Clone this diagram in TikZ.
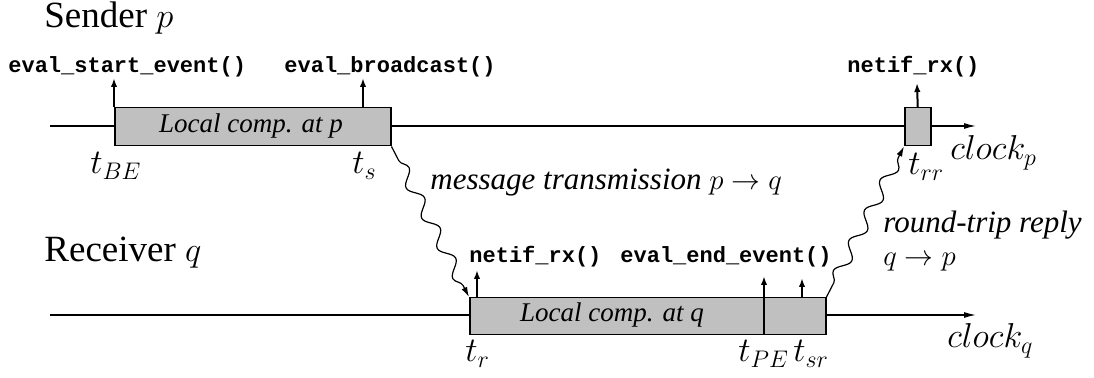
\documentclass[tikz,border=0pt]{standalone}
\usepackage{fontspec}
\setmainfont{Liberation Serif}
\setmonofont{Liberation Mono}
\usetikzlibrary{arrows.meta,decorations.pathmorphing}
\definecolor{boxgray}{RGB}{192,192,192}
\begin{document}
\begin{tikzpicture}[x=0.5pt,y=-0.5pt,
  clk/.style={line width=0.65pt,-{Latex[length=6pt,width=3pt]}},
  box/.style={draw,line width=0.75pt,fill=boxgray,inner sep=0pt,anchor=north west},
  up/.style={line width=1pt,-{Latex[length=4.5pt,width=3.2pt]}},
  fn/.style={font=\ttfamily\bfseries\fontsize{11}{13}\selectfont,anchor=base west,inner sep=0pt},
  tl/.style={font=\fontsize{18}{20}\selectfont,anchor=base west,inner sep=0pt},
  ttl/.style={font=\fontsize{18.5}{20}\selectfont,anchor=base west,inner sep=0pt},
  it/.style={font=\itshape\fontsize{15.5}{16.5}\selectfont,anchor=base west,inner sep=0pt},
  bl/.style={font=\itshape\fontsize{13.5}{15}\selectfont,anchor=base,inner sep=0pt},
  msg/.style={line width=0.6pt,decorate,decoration={snake,segment length=17pt,amplitude=3pt,pre length=8pt,post length=6pt},-{Latex[length=5pt,width=3pt]}}]
\useasboundingbox (0,0) rectangle (1094,378);
% titles
\node[ttl] (sender) at (44,28) {Sender $p$};
\node[ttl] (receiver) at (44,262) {Receiver $q$};
% clock lines
\coordinate (ps) at (50,126);
\coordinate (pe) at (976,126);
\coordinate (qs) at (50,315);
\coordinate (qe) at (976,315);
\draw[clk] (ps) -- (pe);
\draw[clk] (qs) -- (qe);
% boxes
\node[box,minimum width=138pt,minimum height=19pt] (bp) at (114,107) {};
\node[box,minimum width=13pt,minimum height=19pt] (br) at (904,107) {};
\node[box,minimum width=178pt,minimum height=18.5pt] (bq) at (469,297) {};
\coordinate (dv) at (764,334);
\coordinate (dvt) at (764,276);
\draw[up] (dv) -- (dvt);
\node[bl] (lp) at (251,133) {Local comp. at p};
\node[bl] (lq) at (612,322) {Local comp. at q};
% up arrows
\coordinate (a1) at (114,78);
\coordinate (a2) at (363,78);
\coordinate (a3) at (917,83);
\coordinate (a4) at (477,270);
\coordinate (a5) at (802,278);
\draw[up] (bp.north west) -- (a1);
\draw[up] (363,107) -- (a2);
\draw[up] (br.north) -- (a3);
\draw[up] (477,297) -- (a4);
\draw[up] (802,297) -- (a5);
% function labels
\node[fn] (f1) at (8,73) {eval\_start\_event()};
\node[fn] (f2) at (284,73) {eval\_broadcast()};
\node[fn] (f3) at (847,73) {netif\_rx()};
\node[fn] (f4) at (469,263) {netif\_rx()};
\node[fn] (f5) at (620,263) {eval\_end\_event()};
% time labels
\node[tl] (tbe) at (90,174) {$t_{BE}$};
\node[tl] (ts) at (352,174) {$t_s$};
\node[tl] (trr) at (908,175) {$t_{rr}$};
\node[tl] (cp) at (950,160) {$clock_p$};
\node[tl] (tr) at (465,362) {$t_r$};
\node[tl] (tpe) at (738,362) {$t_{PE}$};
\node[tl] (tsr) at (793,362) {$t_{sr}$};
\node[tl] (cq) at (947,348) {$clock_q$};
% messages
\draw[msg] (bp.south east) -- (bq.north west);
\draw[msg] (bq.north east) -- (br.south west);
\node[it] (m1) at (430,190) {message transmission $p \rightarrow q$};
\node[it,anchor=north west,align=left] (m2) at (883,211) {round-trip reply\\$q \rightarrow p$};
\end{tikzpicture}
\end{document}
